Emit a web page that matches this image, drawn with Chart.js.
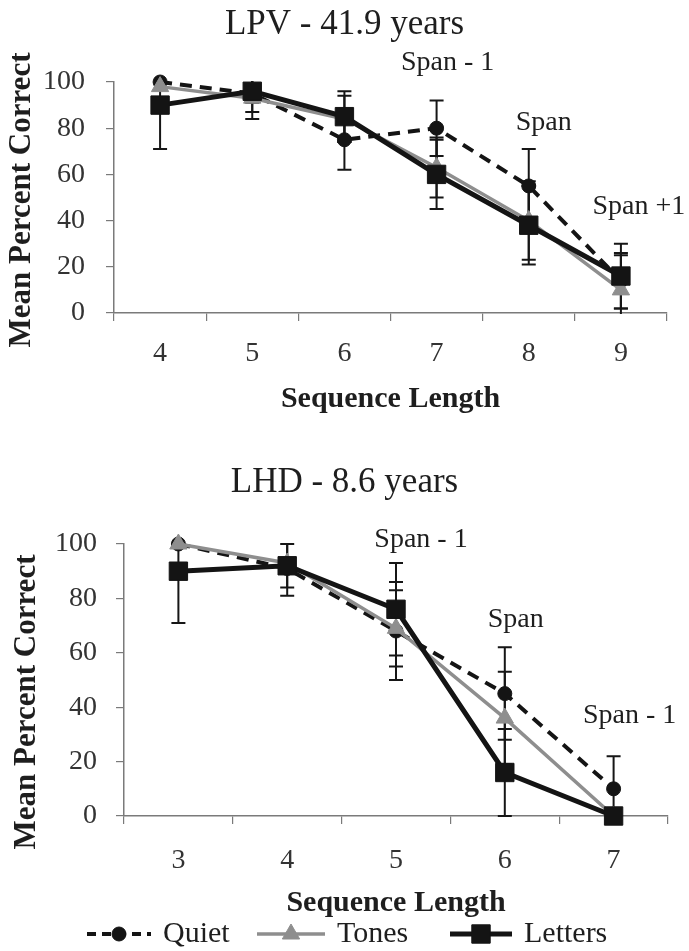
<!doctype html>
<html lang="en">
<head>
<meta charset="UTF-8">
<title>Mean Percent Correct by Sequence Length</title>
<script src="https://cdn.jsdelivr.net/npm/chart.js@4.4.1/dist/chart.umd.min.js"></script>
<style>
  body { margin:0; background:#fff; }
  #wrap { position:relative; width:689px; height:951px; }
  canvas { position:absolute; left:0; }
</style>
</head>
<body>
<div id="wrap">
  <canvas id="chart-lpv" width="689" height="450" style="top:0"></canvas>
  <canvas id="chart-lhd" width="689" height="501" style="top:450px"></canvas>
</div>
<script>
// ---- LPV - 41.9 years ----
var lpvLengths    = ['4', '5', '6', '7', '8', '9'];
var lpvQuiet      = [100, 95, 75, 80, 55, 14];
var lpvQuietErr   = [0, 8, 13, 12, 16, 12];
var lpvTones      = [98, 93, 84, 63, 40, 10];
var lpvTonesErr   = [0, 9, 10, 13, 17, 15];
var lpvLetters    = [90, 96, 85, 60, 38, 16];
var lpvLettersErr = [19, 5, 11, 15, 17, 14];
var lpvSpanText   = ['Span - 1', 'Span', 'Span +1'];
var lpvSpanAt     = [3, 4, 5];

// ---- LHD - 8.6 years ----
var lhdLengths    = ['3', '4', '5', '6', '7'];
var lhdQuiet      = [100, 91, 68, 45, 10];
var lhdQuietErr   = [0, 10, 18, 17, 12];
var lhdTones      = [100, 93, 69, 36, 0];
var lhdTonesErr   = [0, 0, 14, 17, 0];
var lhdLetters    = [90, 92, 76, 16, 0];
var lhdLettersErr = [19, 8, 17, 16, 0];
var lhdSpanText   = ['Span - 1', 'Span', 'Span - 1'];
var lhdSpanAt     = [2, 3, 4];

var yTicks = [0, 20, 40, 60, 80, 100];
var seriesNames = ['Quiet', 'Tones', 'Letters'];

var SERIF = "'Liberation Serif', 'Times New Roman', serif";
Chart.defaults.font.family = SERIF;
Chart.defaults.color = '#2a2a2a';

var GREY = '#8e8e8e';
var INK = '#141414';

// styles for the three series (also used by the legend)
var styles = [
  { color: INK,  width: 4,   dash: [12, 8], point: 'circle',   radius: 7,  pborder: 1 },
  { color: GREY, width: 3.5, dash: [],      point: 'triangle', radius: 10, pborder: 1 },
  { color: INK,  width: 5,   dash: [],      point: 'rect',     radius: 13, pborder: 1 }
];

// vertical error bars with caps
var errorBarPlugin = {
  id: 'errorBars',
  beforeDatasetsDraw: function(chart) {
    var ctx = chart.ctx, ys = chart.scales.y, a = chart.chartArea;
    ctx.save();
    ctx.beginPath();
    ctx.rect(a.left, a.top - 1, a.right - a.left, a.bottom - a.top + 2);
    ctx.clip();
    ctx.strokeStyle = '#161616';
    ctx.lineWidth = 2;
    chart.data.datasets.forEach(function(ds, di) {
      var meta = chart.getDatasetMeta(di);
      ds.errors.forEach(function(e, i) {
        if (!e) return;
        var px = meta.data[i].x;
        var top = ys.getPixelForValue(ds.data[i] + e);
        var bot = ys.getPixelForValue(ds.data[i] - e);
        ctx.beginPath();
        ctx.moveTo(px, top); ctx.lineTo(px, bot);
        ctx.moveTo(px - 7, top); ctx.lineTo(px + 7, top);
        ctx.moveTo(px - 7, bot); ctx.lineTo(px + 7, bot);
        ctx.stroke();
      });
    });
    ctx.restore();
  }
};

// titles, span labels and legend drawn on the canvas
var decorPlugin = {
  id: 'decor',
  afterDraw: function(chart, args, o) {
    var ctx = chart.ctx, a = chart.chartArea;
    var xs = chart.scales.x, ys = chart.scales.y;
    ctx.save();
    ctx.fillStyle = '#1e1e1e';
    ctx.textBaseline = 'middle';

    // chart title
    ctx.textAlign = 'center';
    ctx.font = '35px ' + SERIF;
    ctx.fillText(o.title, chart.width / 2, o.titleY);

    // x axis title
    ctx.font = 'bold 30px ' + SERIF;
    ctx.fillText('Sequence Length', (a.left + a.right) / 2, o.xTitleY);

    // y axis title
    ctx.save();
    ctx.translate(o.yTitleX, o.yTitleY);
    ctx.rotate(-Math.PI / 2);
    ctx.font = 'bold 31px ' + SERIF;
    ctx.fillText('Mean Percent Correct', 0, 0);
    ctx.restore();

    // span labels over the highest error bar
    ctx.font = '28px ' + SERIF;
    o.spanText.forEach(function(t, k) {
      var i = o.spanAt[k];
      var hi = 0;
      chart.data.datasets.forEach(function(ds) { hi = Math.max(hi, ds.data[i] + ds.errors[i]); });
      var x = xs.getPixelForValue(i) + o.spanDx[k];
      var y = ys.getPixelForValue(hi) - o.spanDy[k];
      ctx.fillText(t, x, y);
    });

    // legend
    if (o.legend) {
      var L = o.legend;
      ctx.font = '30px ' + SERIF;
      ctx.textAlign = 'left';
      seriesNames.forEach(function(name, k) {
        var s = styles[k], x1 = L.x[k][0], x2 = L.x[k][1], y = L.y;
        ctx.save();
        ctx.strokeStyle = s.color;
        ctx.lineWidth = s.width;
        ctx.setLineDash(s.dash.length ? [9, 6] : []);
        ctx.beginPath(); ctx.moveTo(x1, y); ctx.lineTo(x2, y); ctx.stroke();
        ctx.setLineDash([]);
        ctx.fillStyle = s.color;
        ctx.lineWidth = s.pborder;
        Chart.helpers.drawPoint(ctx, { pointStyle: s.point, radius: s.radius, rotation: 0, borderWidth: s.pborder }, (x1 + x2) / 2, y);
        ctx.restore();
        ctx.fillText(name, x2 + L.gap, y);
      });
    }
    ctx.restore();
  }
};

function makeDatasets(q, qe, t, te, l, le) {
  var vals = [q, t, l], errs = [qe, te, le];
  return seriesNames.map(function(name, k) {
    var s = styles[k];
    return {
      label: name,
      data: vals[k],
      errors: errs[k],
      order: 2 - k,
      clip: false,
      borderColor: s.color,
      borderWidth: s.width,
      borderDash: s.dash,
      backgroundColor: s.color,
      pointStyle: s.point,
      pointRadius: s.radius,
      pointHoverRadius: s.radius,
      pointBackgroundColor: s.color,
      pointBorderColor: s.color,
      pointBorderWidth: s.pborder,
      tension: 0,
      fill: false
    };
  });
}

function makeChart(id, labels, datasets, lay, decor) {
  return new Chart(document.getElementById(id), {
    type: 'line',
    data: { labels: labels, datasets: datasets },
    plugins: [errorBarPlugin, decorPlugin],
    options: {
      responsive: false,
      devicePixelRatio: 1,
      animation: false,
      layout: { padding: { top: lay.top, right: lay.right, left: 0, bottom: 0 } },
      scales: {
        x: {
          offset: true,
          grid: { offset: true, drawOnChartArea: false, tickLength: 8, color: '#7a7a7a', lineWidth: 1.2 },
          border: { color: '#7a7a7a', width: 1.5 },
          ticks: { font: { size: 28 }, padding: lay.xPad, color: '#333' },
          afterFit: function(s) { s.height = lay.xHeight; }
        },
        y: {
          min: 0, max: 100,
          afterBuildTicks: function(s) { s.ticks = yTicks.map(function(v) { return { value: v }; }); },
          grid: { drawOnChartArea: false, tickLength: 8, color: '#7a7a7a', lineWidth: 1.2 },
          border: { color: '#7a7a7a', width: 1.5 },
          ticks: { font: { size: 28 }, padding: lay.yPad, color: '#333' },
          afterFit: function(s) { s.width = lay.yWidth; }
        }
      },
      plugins: {
        legend: { display: false },
        tooltip: { enabled: false },
        decor: decor
      }
    }
  });
}

makeChart('chart-lpv', lpvLengths,
  makeDatasets(lpvQuiet, lpvQuietErr, lpvTones, lpvTonesErr, lpvLetters, lpvLettersErr),
  { top: 82, right: 22, xHeight: 137, yWidth: 114, xPad: 16, yPad: 21 },
  { title: 'LPV - 41.9 years', titleY: 25, xTitleY: 399, yTitleX: 22, yTitleY: 200,
    spanText: lpvSpanText, spanAt: lpvSpanAt, spanDx: [11, 15, 18], spanDy: [38, 26, 37] });

makeChart('chart-lhd', lhdLengths,
  makeDatasets(lhdQuiet, lhdQuietErr, lhdTones, lhdTonesErr, lhdLetters, lhdLettersErr),
  { top: 94, right: 21, xHeight: 135, yWidth: 124, xPad: 20, yPad: 19 },
  { title: 'LHD - 8.6 years', titleY: 33, xTitleY: 453, yTitleX: 27, yTitleY: 252,
    spanText: lhdSpanText, spanAt: lhdSpanAt, spanDx: [25, 11, 16], spanDy: [23, 28, 41],
    legend: { y: 484, gap: 12, x: [[87, 151], [257, 325], [450, 512]] } });
</script>
</body>
</html>
